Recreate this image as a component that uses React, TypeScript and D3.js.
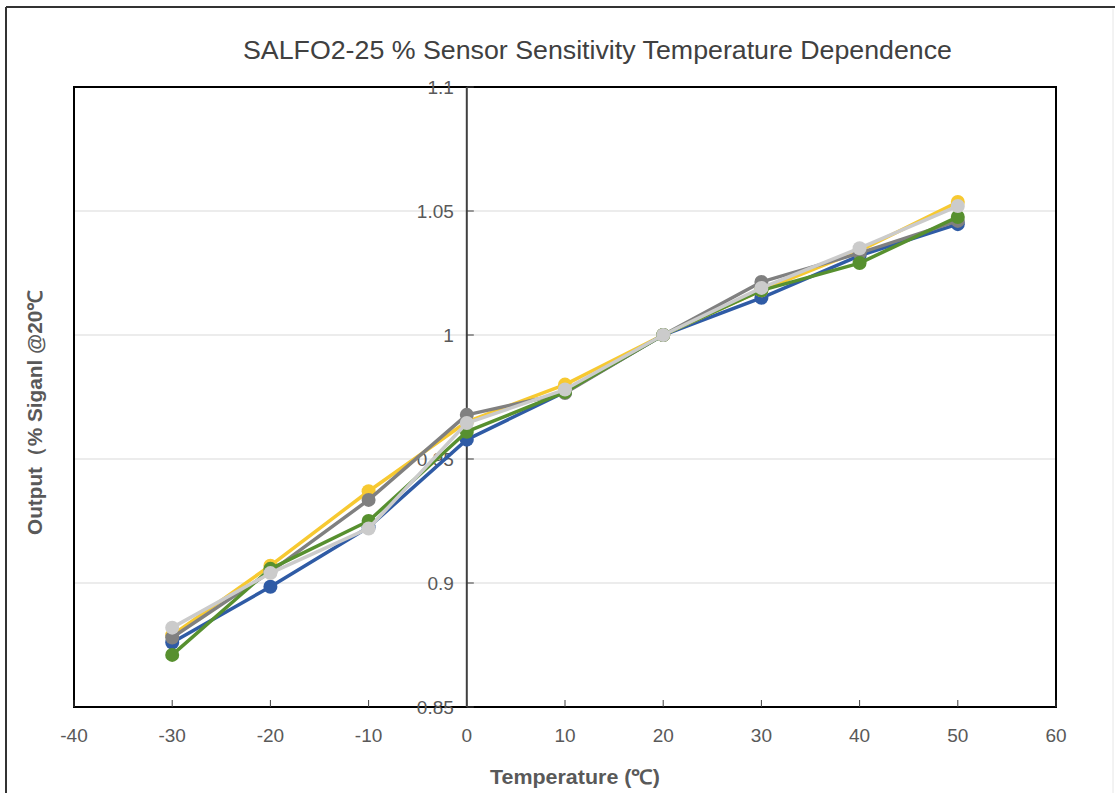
import React from 'react';
import * as d3 from 'd3';

const temps = [-30, -20, -10, 0, 10, 20, 30, 40, 50];
const blueVals = [0.876, 0.8985, 0.9225, 0.9578, 0.977, 1.0, 1.015, 1.032, 1.0447];
const yellowVals = [0.879, 0.907, 0.937, 0.965, 0.98, 1.0, 1.018, 1.034, 1.0536];
const greyVals = [0.878, 0.9045, 0.9335, 0.9678, 0.9766, 1.0, 1.0214, 1.033, 1.046];
const greenVals = [0.871, 0.9057, 0.925, 0.961, 0.977, 1.0, 1.018, 1.029, 1.0476];
const lightVals = [0.882, 0.904, 0.922, 0.9645, 0.978, 1.0, 1.019, 1.035, 1.052];

const seriesList = [
  { name: 'blue', color: '#2f5ba5', values: blueVals },
  { name: 'yellow', color: '#f7c931', values: yellowVals },
  { name: 'grey', color: '#808080', values: greyVals },
  { name: 'green', color: '#57902f', values: greenVals },
  { name: 'light', color: '#cbcbcb', values: lightVals },
];

const xTicks = [-40, -30, -20, -10, 0, 10, 20, 30, 40, 50, 60];
const yTicks = [0.85, 0.9, 0.95, 1, 1.05, 1.1];
const yTickLabels = ['0.85', '0.9', '0.95', '1', '1.05', '1.1'];

const W = 1115;
const H = 793;
const plot = { left: 74, top: 87, right: 1056, bottom: 707 };
const font = '"Liberation Sans", Arial, sans-serif';

const App = () => {
  const x = d3.scaleLinear().domain([-40, 60]).range([plot.left, plot.right]);
  const y = d3.scaleLinear().domain([0.85, 1.1]).range([plot.bottom, plot.top]);
  const line = d3
    .line<number>()
    .x((_, i) => x(temps[i]))
    .y((d) => y(d));

  return (
    <svg width={W} height={H} style={{ position: 'absolute', left: 0, top: 0 }}>
      <rect x={0} y={0} width={W} height={H} fill="#fff" />
      {/* outer chart border */}
      <line x1={6} y1={7} x2={W} y2={7} stroke="#333" strokeWidth={2} />
      <line x1={6} y1={7} x2={6} y2={H} stroke="#333" strokeWidth={2} />
      <line x1={1113} y1={9} x2={1113} y2={H} stroke="#e6e6e6" strokeWidth={1} />

      <text
        x={243}
        y={59}
        fontFamily={font}
        fontSize={26}
        fill="#404040"
        textLength={709}
        lengthAdjust="spacingAndGlyphs"
      >
        SALFO2-25 % Sensor Sensitivity Temperature Dependence
      </text>

      {/* gridlines */}
      {yTicks.slice(1, -1).map((t) => (
        <line key={t} x1={plot.left} x2={plot.right} y1={y(t)} y2={y(t)} stroke="#d9d9d9" strokeWidth={1} />
      ))}

      {/* plot frame */}
      <rect
        x={plot.left}
        y={plot.top}
        width={plot.right - plot.left}
        height={plot.bottom - plot.top}
        fill="none"
        stroke="#000"
        strokeWidth={2}
      />

      {/* x ticks (inside, on bottom) */}
      {xTicks.map((t) => (
        <g key={t}>
          <line x1={x(t)} x2={x(t)} y1={plot.bottom} y2={plot.bottom - 7} stroke="#404040" strokeWidth={1} />
          <text x={x(t)} y={742} textAnchor="middle" fontFamily={font} fontSize={19} fill="#595959">
            {t}
          </text>
        </g>
      ))}

      {/* y axis at x = 0 */}
      <line x1={x(0)} x2={x(0)} y1={plot.top} y2={plot.bottom} stroke="#404040" strokeWidth={2} />
      {yTicks.map((t, i) => (
        <g key={t}>
          <line x1={x(0)} x2={x(0) + 7} y1={y(t)} y2={y(t)} stroke="#404040" strokeWidth={1} />
          <text
            x={x(0) - 13}
            y={y(t) + 7}
            textAnchor="end"
            fontFamily={font}
            fontSize={19}
            fill="#595959"
          >
            {yTickLabels[i]}
          </text>
        </g>
      ))}

      {/* series */}
      {seriesList.map((s) => (
        <g key={s.name}>
          <path d={line(s.values) || ''} fill="none" stroke={s.color} strokeWidth={3.5} strokeLinejoin="round" />
          {s.values.map((v, i) => (
            <circle key={i} cx={x(temps[i])} cy={y(v)} r={7} fill={s.color} />
          ))}
        </g>
      ))}

      <text
        x={490}
        y={784}
        fontFamily={font}
        fontSize={20}
        fontWeight="bold"
        fill="#595959"
        textLength={170}
        lengthAdjust="spacingAndGlyphs"
      >
        Temperature (℃)
      </text>
      <text
        transform={`translate(42,535) rotate(-90)`}
        fontFamily={font}
        fontSize={20}
        fontWeight="bold"
        fill="#595959"
        textLength={245}
        lengthAdjust="spacingAndGlyphs"
      >
        Output（% Siganl @20℃
      </text>
    </svg>
  );
};

export default App;
